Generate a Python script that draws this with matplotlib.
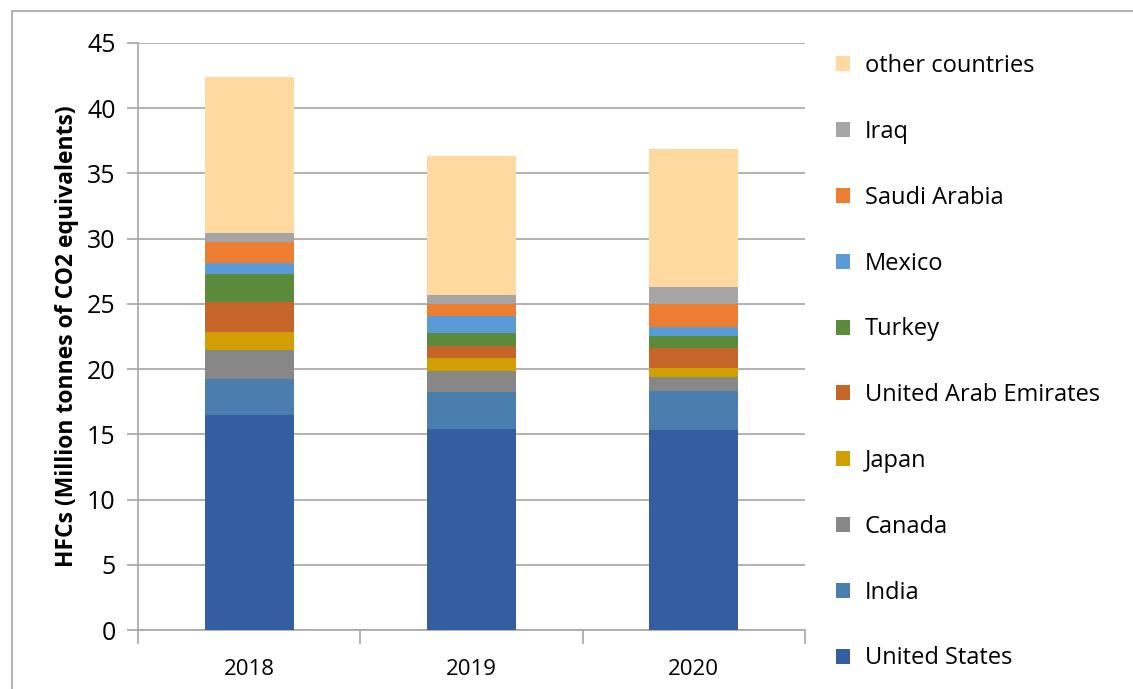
import numpy as np
import matplotlib.pyplot as plt
from matplotlib.patches import Rectangle, Patch

plt.rcParams['font.family'] = ['Open Sans', 'DejaVu Sans']

years = ['2018', '2019', '2020']
countries = ['United States', 'India', 'Canada', 'Japan', 'United Arab Emirates',
             'Turkey', 'Mexico', 'Saudi Arabia', 'Iraq', 'other countries']

# Million tonnes CO2 eq, per country, for 2018 / 2019 / 2020
united_states = [16.45, 15.40, 15.36]
india = [2.81, 2.86, 2.95]
canada = [2.19, 1.56, 1.12]
japan = [1.40, 1.07, 0.62]
uae = [2.32, 0.92, 1.55]
turkey = [2.12, 0.94, 0.92]
mexico = [0.87, 1.35, 0.72]
saudi_arabia = [1.55, 0.92, 1.78]
iraq = [0.76, 0.64, 1.30]
other = [11.93, 10.69, 10.53]

series = [united_states, india, canada, japan, uae, turkey, mexico, saudi_arabia, iraq, other]
colors = ['#355EA0', '#4A7EAF', '#878787', '#D29F02', '#C5652A',
          '#5A8B3B', '#5B9BD5', '#ED7D31', '#A5A5A5', '#FFD9A0']

fig = plt.figure(figsize=(11.33, 6.89), dpi=100)
ax = fig.add_axes([138 / 1133, 1 - 630 / 689, (805 - 138) / 1133, (630 - 43) / 689])

x = np.arange(len(years))
bottom = np.zeros(len(years))
for vals, c in zip(series, colors):
    ax.bar(x, vals, width=0.4, bottom=bottom, color=c, zorder=3)
    bottom += np.array(vals)

ax.set_xlim(-0.5, 2.5)
ax.set_ylim(0, 45)
ax.set_yticks(range(0, 46, 5))
ax.yaxis.grid(True, color='#A6A6A6', linewidth=1.2, zorder=0)
ax.set_xticks(x)
ax.set_xticklabels(years, fontsize=16)
ax.tick_params(axis='x', length=0, pad=21)
ax.set_xticks([-0.5, 0.5, 1.5, 2.5], minor=True)
ax.tick_params(axis='x', which='minor', length=10, color='#A6A6A6', width=1.2)
ax.tick_params(axis='y', labelsize=18, length=8, color='#A6A6A6', width=1.2, pad=8)
for s in ['top', 'right']:
    ax.spines[s].set_visible(False)
for s in ['left', 'bottom']:
    ax.spines[s].set_color('#A6A6A6')
    ax.spines[s].set_linewidth(1.2)

ax.set_ylabel('HFCs (Million tonnes of CO2 equivalents)', fontsize=16.5,
              fontweight='bold', labelpad=6)

handles = [Patch(facecolor=c) for c in colors][::-1]
labels = countries[::-1]
fig.legend(handles, labels, loc='upper left', bbox_to_anchor=(815 / 1133, 1 - 33 / 689),
           frameon=False, fontsize=17, labelspacing=1.77, handlelength=0.6,
           handleheight=0.6, handletextpad=0.6)

fig.patches.append(Rectangle((12 / 1133, -0.1), 1.2, 1 - 11 / 689 + 0.1,
                             transform=fig.transFigure, fill=False,
                             edgecolor='#A6A6A6', linewidth=1.2))

fig.savefig('out.png', dpi=100)
